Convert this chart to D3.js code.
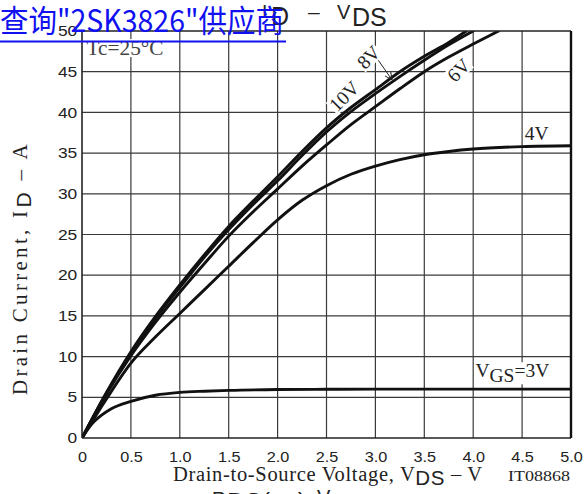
<!DOCTYPE html>
<html><head><meta charset="utf-8">
<script src="https://cdn.jsdelivr.net/npm/d3@7"></script>
<style>body{margin:0;background:#fff;} svg{display:block;}</style>
</head><body>
<svg id="c" width="586" height="494"></svg>
<script>
// ---- data ----
const xTicks = [0, 0.5, 1.0, 1.5, 2.0, 2.5, 3.0, 3.5, 4.0, 4.5, 5.0];
const xTickLabels = ["0", "0.5", "1.0", "1.5", "2.0", "2.5", "3.0", "3.5", "4.0", "4.5", "5.0"];
const yTicks = [0, 5, 10, 15, 20, 25, 30, 35, 40, 45, 50];
const yTickLabels = ["0", "5", "10", "15", "20", "25", "30", "35", "40", "45", "50"];

const vds10 = [0, 0.25, 0.5, 0.75, 1.0, 1.25, 1.5, 1.75, 2.0, 2.25, 2.5, 2.75, 3.0, 3.25, 3.5, 3.75, 3.93];
const id10  = [0, 5.6, 10.6, 14.9, 18.8, 22.5, 26.0, 29.1, 32.1, 35.2, 38.1, 40.6, 42.8, 45.0, 46.9, 48.6, 50];
const vds8  = [0, 0.25, 0.5, 0.75, 1.0, 1.25, 1.5, 1.75, 2.0, 2.25, 2.5, 2.75, 3.0, 3.25, 3.5, 3.75, 4.0];
const id8   = [0, 5.5, 10.4, 14.7, 18.5, 22.2, 25.6, 28.7, 31.6, 34.7, 37.6, 40.1, 42.3, 44.4, 46.4, 48.3, 50];
const vds6  = [0, 0.25, 0.5, 0.75, 1.0, 1.25, 1.5, 1.75, 2.0, 2.25, 2.5, 2.75, 3.0, 3.25, 3.5, 3.75, 4.0, 4.26];
const id6   = [0, 5.4, 10.1, 14.2, 17.9, 21.4, 24.8, 27.8, 30.6, 33.4, 36.0, 38.5, 40.7, 42.9, 45.0, 46.8, 48.4, 50];
const vds4  = [0, 0.25, 0.5, 0.75, 1.0, 1.25, 1.5, 1.75, 2.0, 2.25, 2.5, 2.75, 3.0, 3.25, 3.5, 3.75, 4.0, 4.5, 5.0];
const id4   = [0, 4.8, 9.2, 12.4, 15.3, 18.2, 21.1, 24.0, 26.8, 29.2, 31.0, 32.4, 33.4, 34.2, 34.8, 35.2, 35.5, 35.8, 35.9];
const vds3  = [0, 0.1, 0.2, 0.3, 0.5, 0.75, 1.0, 1.25, 1.5, 2.0, 2.5, 3.0, 4.0, 5.0];
const id3   = [0, 1.7, 2.8, 3.6, 4.5, 5.25, 5.6, 5.75, 5.85, 5.95, 5.98, 6.0, 6.0, 6.0];

const seriesVds = [vds10, vds8, vds6, vds4, vds3];
const seriesId  = [id10, id8, id6, id4, id3];

// ---- layout ----
const svg = d3.select("#c");
const x = d3.scaleLinear().domain([0, 5]).range([82, 571]);
const y = d3.scaleLinear().domain([0, 50]).range([438, 31]);
const SERIF = "'Liberation Serif','Times New Roman',serif";
const SANS = "'Liberation Sans',Arial,sans-serif";

svg.append("rect").attr("width", 586).attr("height", 494).attr("fill", "#fff");

function stretch(sel, target, ax) {
  const w = sel.node().getBBox().width;
  const s = target / w;
  sel.attr("transform", `translate(${ax},0) scale(${s},1) translate(${-ax},0)`);
}
function spread(sel, target) {
  const w = sel.node().getBBox().width;
  const n = sel.node().textContent.length;
  sel.attr("letter-spacing", (target - w) / n);
}

const grid = svg.append("g");
grid.selectAll("line.v").data(xTicks.slice(1, -1)).join("line")
  .attr("x1", d => x(d)).attr("x2", d => x(d)).attr("y1", y(0)).attr("y2", y(50))
  .attr("stroke", "#3a3a3a").attr("stroke-width", 1.2);
grid.selectAll("line.h").data(yTicks.slice(1, -1)).join("line")
  .attr("y1", d => y(d)).attr("y2", d => y(d)).attr("x1", x(0)).attr("x2", x(5))
  .attr("stroke", "#3a3a3a").attr("stroke-width", 1.2);

// axes (tick labels via d3 axes)
const xAxis = d3.axisBottom(x).tickValues(xTicks).tickFormat((d, i) => xTickLabels[i]).tickSize(0).tickPadding(14);
const gx = svg.append("g").attr("transform", `translate(0,${y(0)})`).call(xAxis);
gx.select(".domain").remove();
gx.selectAll("text").attr("font-family", SANS).attr("font-size", 14.5).attr("fill", "#222")
  .attr("transform", "scale(1.12,1)");

const yAxis = d3.axisLeft(y).tickValues(yTicks).tickFormat((d, i) => yTickLabels[i]).tickSize(0).tickPadding(4);
const gy = svg.append("g").attr("transform", `translate(${x(0)},0)`).call(yAxis);
gy.select(".domain").remove();
gy.selectAll("text").attr("font-family", SANS).attr("font-size", 14.5).attr("fill", "#222")
  .attr("transform", "scale(1.2,1)");

// curves
svg.append("clipPath").attr("id", "clip").append("rect")
  .attr("x", x(0)).attr("y", y(50)).attr("width", x(5) - x(0)).attr("height", y(0) - y(50));
const line = d3.line().x(d => x(d[0])).y(d => y(d[1])).curve(d3.curveMonotoneX);
const curves = svg.append("g").attr("clip-path", "url(#clip)");
seriesVds.forEach((vs, k) => {
  const pts = vs.map((v, i) => [v, seriesId[k][i]]);
  curves.append("path").attr("d", line(pts)).attr("fill", "none")
    .attr("stroke", "#111").attr("stroke-width", 2.9).attr("stroke-linecap", "round");
});

// frame
svg.append("line").attr("x1", x(0)).attr("x2", x(0)).attr("y1", y(0)).attr("y2", y(50)).attr("stroke", "#222").attr("stroke-width", 1.6);
svg.append("line").attr("x1", x(0)).attr("x2", x(5)).attr("y1", y(0)).attr("y2", y(0)).attr("stroke", "#222").attr("stroke-width", 1.6);
svg.append("line").attr("x1", x(0)).attr("x2", x(5)).attr("y1", y(50)).attr("y2", y(50)).attr("stroke", "#222").attr("stroke-width", 1.6);
svg.append("line").attr("x1", x(5)).attr("x2", x(5)).attr("y1", y(0)).attr("y2", y(50)).attr("stroke", "#111").attr("stroke-width", 2.4);

// labels with white background
function bgLabel(cx, cy, rot, build, pad, fs) {
  const g = svg.append("g").attr("transform", `translate(${cx},${cy}) rotate(${rot})`);
  const t = g.append("text").attr("text-anchor", "middle").attr("dy", "0.35em")
    .attr("font-family", SERIF).attr("font-size", fs || 19.5).attr("fill", "#222");
  build(t);
  const bb = t.node().getBBox();
  const p = pad == null ? 1 : pad;
  g.insert("rect", "text").attr("x", bb.x - p).attr("y", bb.y + 2).attr("width", bb.width + 2 * p)
    .attr("height", bb.height - 4).attr("fill", "#fff");
  return g;
}
bgLabel(x(2.68), y(42.0), -45, t => t.text("10V"));
bgLabel(x(2.93), y(46.8), -45, t => t.text("8V"));
bgLabel(x(3.85), y(45.2), -45, t => t.text("6V"));
bgLabel(x(4.65), y(37.4), 0, t => t.text("4V"));
bgLabel(x(4.40), y(8.3), 0, t => {
  t.append("tspan").text("V");
  t.append("tspan").attr("dy", 5).text("GS");
  t.append("tspan").attr("dy", -5).text("=3V");
});
{
  const g = bgLabel(x(0.44), y(47.9), 0, t => t.text("Tc=25°C").attr("fill", "#444"), 2, 20);
  g.select("text").call(stretch, 77, 0);
  g.select("rect").attr("x", -40).attr("width", 80);
}

// arrow for 8V
{
  const x1 = x(3.03), y1 = y(46.4), x2 = x(3.17), y2 = y(44.0);
  const a = Math.atan2(y2 - y1, x2 - x1), L = 8, w = 0.45;
  svg.append("path")
    .attr("d", `M${x1},${y1}L${x2},${y2}M${x2 - L * Math.cos(a - w)},${y2 - L * Math.sin(a - w)}L${x2},${y2}L${x2 - L * Math.cos(a + w)},${y2 - L * Math.sin(a + w)}`)
    .attr("fill", "none").attr("stroke", "#222").attr("stroke-width", 1);
}

// axis titles
const xl = svg.append("text").attr("x", 173).attr("y", 481).attr("font-family", SERIF).attr("font-size", 20.5).attr("fill", "#222");
xl.append("tspan").text("Drain-to-Source Voltage, V");
xl.append("tspan").attr("font-family", SANS).attr("dy", 4).text("DS");
xl.append("tspan").attr("dy", -4).text(" – V");
xl.call(spread, 310);

const it = svg.append("text").attr("x", 508).attr("y", 481).attr("font-family", SERIF).attr("font-size", 15).attr("fill", "#222").text("IT08868");
it.call(stretch, 62, 508);

const ylg = svg.append("g").attr("transform", "translate(27,268) rotate(-90)");
const yl = ylg.append("text").attr("text-anchor", "middle")
  .attr("font-family", SERIF).attr("font-size", 21).attr("fill", "#222");
yl.append("tspan").text("Drain Current, I");
yl.append("tspan").attr("font-family", SANS).attr("dy", 4).text("D");
yl.append("tspan").attr("dy", -4).text(" – A");
yl.call(spread, 255);

// title
const T = svg.append("g").attr("font-family", SANS).attr("fill", "#222");
T.append("text").attr("x", 262).attr("y", 18).attr("font-size", 19).text("I");
T.append("text").attr("x", 271).attr("y", 25).attr("font-size", 25).text("D");
T.append("text").attr("x", 308).attr("y", 19).attr("font-size", 21).text("–");
T.append("text").attr("x", 337).attr("y", 18.5).attr("font-size", 20).text("V");
T.append("text").attr("x", 352).attr("y", 26).attr("font-size", 25).text("DS");

// clipped next-chart title at bottom
const B = svg.append("g").attr("font-family", SANS).attr("fill", "#222");
B.append("text").attr("x", 212).attr("y", 505).attr("font-size", 19).text("R");
B.append("text").attr("x", 227).attr("y", 511).attr("font-size", 25).text("DS(on)");
B.append("text").attr("x", 300).attr("y", 505).attr("font-size", 21).text("–");
B.append("text").attr("x", 317).attr("y", 504).attr("font-size", 20).text("V");

// blue link overlay
svg.append("text").attr("x", 0).attr("y", 32).attr("font-family", "'Noto Sans CJK SC',sans-serif")
  .attr("font-size", 31).attr("fill", "#1010f0").attr("textLength", 284).attr("lengthAdjust", "spacingAndGlyphs")
  .text("查询\"2SK3826\"供应商");
svg.append("rect").attr("x", 0).attr("y", 40.5).attr("width", 286).attr("height", 2).attr("fill", "#1010f0");
</script>
</body></html>
